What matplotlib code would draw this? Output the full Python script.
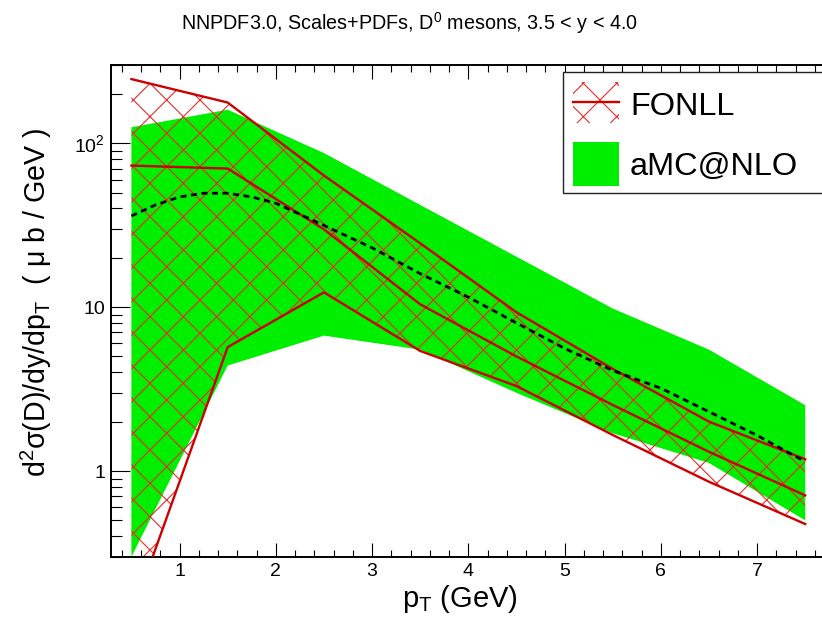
import numpy as np
import matplotlib
matplotlib.use('Agg')
import matplotlib.pyplot as plt
from matplotlib.patches import Rectangle
from matplotlib.lines import Line2D
from matplotlib.ticker import FixedLocator, MultipleLocator, LogLocator, NullFormatter

# FONLL band (scales+PDFs) and central value, per pT bin centre
pt_bins = [0.5, 1.5, 2.5, 3.5, 4.5, 5.5, 6.5, 7.5]
fonll_up = [246, 177, 63.5, 24.5, 9.3, 4.2, 2.0, 1.18]
fonll_cen = [73, 70, 29.8, 10.4, 5.0, 2.53, 1.31, 0.71]
fonll_lo = [0.13, 5.7, 12.3, 5.4, 3.3, 1.66, 0.86, 0.475]

# aMC@NLO band
amc_up = [125, 160, 87, 42, 20.3, 9.8, 5.5, 2.52]
amc_lo = [0.3, 4.4, 6.7, 5.5, 3.0, 1.70, 1.12, 0.50]

# aMC@NLO central curve (dashed)
amc_pt = [0.5, 0.75, 1.0, 1.25, 1.5, 1.75, 2.0, 2.5, 3.0, 3.5, 4.0, 4.5, 5.0, 5.5, 6.0, 6.5, 7.0, 7.5]
amc_cen = [36, 42, 47, 49.5, 49.5, 47, 43, 31.5, 23, 16, 11.5, 8.0, 5.6, 4.1, 3.2, 2.3, 1.65, 1.14]

yticks = [1, 10, 100]
ytick_labels = ['1', '10', r'$\mathregular{10^{2}}$']

plt.rcParams['font.family'] = ['Liberation Sans', 'DejaVu Sans']
plt.rcParams['mathtext.fontset'] = 'custom'
plt.rcParams['mathtext.rm'] = 'Liberation Sans'
plt.rcParams['mathtext.it'] = 'Liberation Sans:italic'
plt.rcParams['hatch.linewidth'] = 0.4
plt.rcParams['hatch.color'] = '#e82a2a'

red_line = '#cc0000'
red_hatch = '#e82a2a'
green = '#00ee00'

fig = plt.figure(figsize=(4.11, 3.085), dpi=200)
ax = fig.add_axes([0.1347, 0.0977, 0.88, 0.797])

ax.fill_between(pt_bins, amc_lo, amc_up, facecolor=green, edgecolor='none', linewidth=0, zorder=1)
ax.fill_between(pt_bins, fonll_lo, fonll_up, facecolor='none', edgecolor=red_hatch,
                linewidth=0, hatch='xx', zorder=2)
for band in (fonll_up, fonll_cen, fonll_lo):
    ax.plot(pt_bins, band, color=red_line, lw=0.85, zorder=3)
ax.plot(amc_pt, amc_cen, color='black', lw=1.0, ls=(0, (2.2, 1.6)), zorder=4)

ax.set_yscale('log')
ax.set_xlim(0.285, 7.8)
ax.set_ylim(0.3, 300)

ax.xaxis.set_major_locator(MultipleLocator(1))
ax.xaxis.set_minor_locator(MultipleLocator(0.2))
ax.yaxis.set_major_locator(FixedLocator(yticks))
ax.set_yticklabels(ytick_labels)
ax.yaxis.set_minor_locator(LogLocator(base=10, subs=np.arange(2, 10)))
ax.yaxis.set_minor_formatter(NullFormatter())

ax.tick_params(axis='x', which='major', direction='in', length=5, width=0.4,
               top=True, labelsize=7, pad=2.2)
ax.tick_params(axis='x', which='minor', direction='in', length=2.5, width=0.4, top=True)
ax.tick_params(axis='y', which='major', direction='in', length=7, width=0.4,
               right=False, labelsize=7, pad=2)
ax.tick_params(axis='y', which='minor', direction='in', length=4, width=0.4, right=False)
for s in ax.spines.values():
    s.set_linewidth(0.7)

fig.text(0.498, 0.951, r'NNPDF3.0, Scales+PDFs, D$^{\mathregular{0}}$ mesons, 3.5 < y < 4.0',
         ha='center', va='baseline', fontsize=7.1)
fig.text(0.56, 0.017, r'p$_{\mathregular{T}}$ (GeV)', ha='center', va='baseline', fontsize=10.5)
fig.text(0.044, 0.51, r'd$^{\mathregular{2}}$σ(D)/dy/dp$_{\mathregular{T}}$  ( μ b / GeV )',
         ha='center', va='center', rotation=90, fontsize=10.3)

# legend box
fig.add_artist(Rectangle((0.6846, 0.6872), 0.4, 0.1966, transform=fig.transFigure,
                         facecolor='white', edgecolor='#222222', linewidth=0.5, zorder=10))
fig.add_artist(Rectangle((0.6971, 0.8006), 0.0559, 0.067, transform=fig.transFigure,
                         facecolor='none', edgecolor=red_hatch, linewidth=0, hatch='xx', zorder=11))
fig.add_artist(Line2D([0.6971, 0.7530], [0.8352, 0.8352], transform=fig.transFigure,
                      color=red_line, lw=0.85, zorder=12))
fig.add_artist(Rectangle((0.6971, 0.699), 0.0559, 0.0713, transform=fig.transFigure,
                         facecolor=green, edgecolor='none', zorder=11))
fig.text(0.7664, 0.8136, 'FONLL', ha='left', va='baseline', fontsize=11.7, zorder=12)
fig.text(0.7664, 0.7164, 'aMC@NLO', ha='left', va='baseline', fontsize=11.7, zorder=12)

fig.savefig('out.png', dpi=200)
